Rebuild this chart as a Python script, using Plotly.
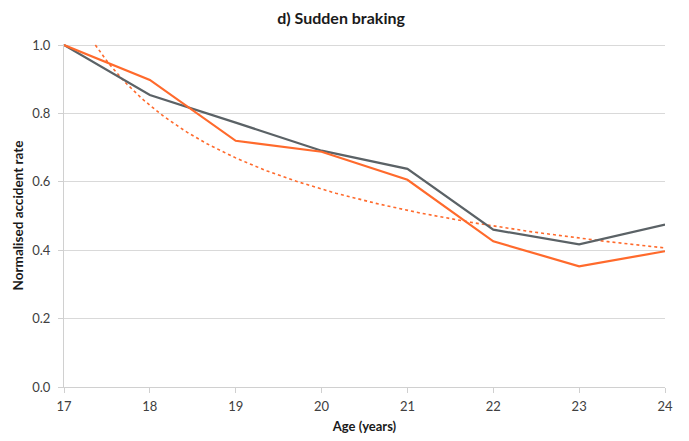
import numpy as np
import plotly.graph_objects as go

# Age in years
ages = [17, 18, 19, 20, 21, 22, 23, 24]
# Normalised accident rates for the two groups
rate_grey = [1.0, 0.854, 0.773, 0.691, 0.638, 0.460, 0.417, 0.475]
rate_orange = [1.0, 0.898, 0.720, 0.688, 0.606, 0.426, 0.353, 0.397]

y_ticks = [0.0, 0.2, 0.4, 0.6, 0.8, 1.0]

GREY = "#5b6266"
ORANGE = "#ff6a2c"
FONT = "Lato, 'Open Sans', sans-serif"

# Power trend line fitted to the orange series (x indexed 1..n)
idx = np.arange(1, len(ages) + 1, dtype=float)
k, ln_c = np.polyfit(np.log(idx), np.log(rate_orange), 1)
c = np.exp(ln_c)
t_start = (1.0 / c) ** (1.0 / k)  # where the trend drops below the top of the axis
t = np.linspace(t_start, idx[-1], 200)
trend_x = ages[0] + (t - 1)
trend_y = c * t ** k

fig = go.Figure()
fig.add_trace(go.Scatter(x=trend_x, y=trend_y, mode="lines",
                         line=dict(color=ORANGE, width=1.6, dash="dot"),
                         hoverinfo="skip", showlegend=False))
fig.add_trace(go.Scatter(x=ages, y=rate_grey, mode="lines",
                         line=dict(color=GREY, width=2.2), showlegend=False))
fig.add_trace(go.Scatter(x=ages, y=rate_orange, mode="lines",
                         line=dict(color=ORANGE, width=2.2), showlegend=False))

fig.update_layout(
    width=689, height=441,
    margin=dict(l=64, r=24, t=44, b=54),
    paper_bgcolor="white", plot_bgcolor="white",
    font=dict(family=FONT, size=13, color="#404040"),
    title=dict(text="<b>d) Sudden braking</b>", x=0.495, xanchor="center",
               y=0.958, yanchor="middle",
               font=dict(family=FONT, size=16, color="#1a1a1a")),
    xaxis=dict(
        range=[17, 24], tickmode="array", tickvals=ages,
        ticks="outside", ticklen=5, tickcolor="#d0d0d0",
        showline=True, linecolor="#d0d0d0", linewidth=1,
        showgrid=False, zeroline=False, ticklabelstandoff=2,
        automargin=False,
        tickfont=dict(size=13, color="#404040"),
        title=dict(text="<b>Age (years)</b>", standoff=9,
                   font=dict(size=13, color="#1a1a1a")),
    ),
    yaxis=dict(
        range=[0, 1.003], tickmode="array", tickvals=y_ticks,
        tickformat=".1f",
        ticks="outside", ticklen=5, tickcolor="#d0d0d0",
        showline=True, linecolor="#d0d0d0", linewidth=1,
        showgrid=True, gridcolor="#d9d9d9", gridwidth=1,
        zeroline=False, ticklabelstandoff=5, automargin=False,
        tickfont=dict(size=13, color="#404040"),
        title=dict(text="<b>Normalised accident rate</b>", standoff=5,
                   font=dict(size=13.5, color="#1a1a1a")),
    ),
)

fig.write_html("out.html")
